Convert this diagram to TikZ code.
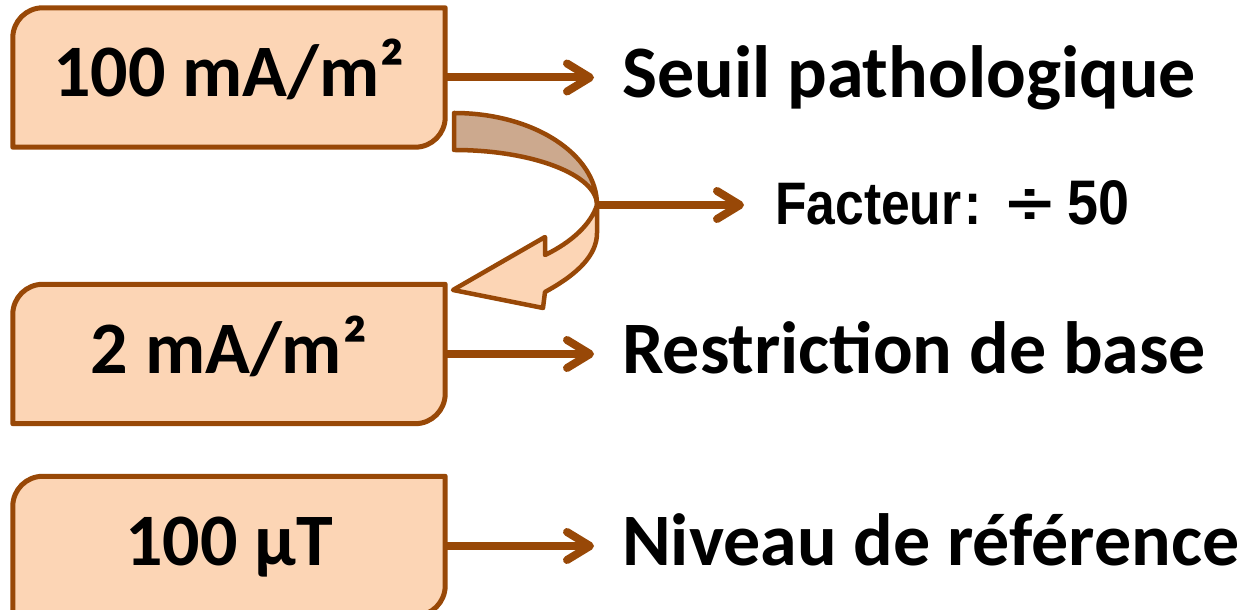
\documentclass[tikz,border=0pt]{standalone}
\usepackage{fontspec}
\setmainfont{Carlito}
\newfontfamily\narrowfont[FakeStretch=0.86]{Liberation Sans}
\usetikzlibrary{arrows.meta}
\definecolor{brn}{RGB}{152,72,7}
\definecolor{peach}{RGB}{252,213,181}
\definecolor{backpeach}{RGB}{204,169,142}
\pgfdeclarelayer{bg}
\pgfsetlayers{bg,main}
\tikzset{
  boxline/.style={draw=brn,fill=peach,line width=5pt,line join=round},
  valbox/.style={minimum width=432pt,minimum height=139pt,text height=52pt,text depth=13pt,inner sep=0pt,
     font=\bfseries\fontsize{74}{80}\selectfont},
  lbl/.style={anchor=base west,inner sep=0pt,font=\bfseries\fontsize{74}{80}\selectfont},
  flbl/.style={anchor=base west,inner sep=0pt,font=\narrowfont\bfseries\fontsize{60}{66}\selectfont},
  conn/.style={draw=brn,line width=8pt,-{Straight Barb[length=23pt,width=28pt,round]}},
  ribbon/.style={draw=brn,line width=4.5pt,line join=round},
}
\newcommand\valshape[1]{%
  \draw[boxline] (#1.south west) -- ([yshift=-30pt]#1.north west)
    arc[start angle=180,end angle=90,radius=30pt] -- (#1.north east)
    -- ([yshift=30pt]#1.south east)
    arc[start angle=0,end angle=-90,radius=30pt] -- cycle;}
\begin{document}
\begin{tikzpicture}[x=1pt,y=1pt]
\useasboundingbox (0,0) rectangle (1256,610);
% value boxes
\node[valbox] (b1) at (229,532.5) {100 mA/m²};
\node[valbox] (b2) at (229,256) {2 mA/m²};
\node[valbox] (b3) at (229,64) {100 μT};
\begin{pgfonlayer}{bg}
  \valshape{b1}
  \valshape{b2}
  \valshape{b3}
\end{pgfonlayer}
% labels
\node[lbl] (s1) at (622,512) {Seuil pathologique};
\node[lbl] (s2) at (622,236) {Restriction de base};
\node[lbl] (s3) at (622,44) {Niveau de référence};
\node[flbl] (f) at (775,385) {Facteur\hspace{3pt}:\hspace{26pt}\scalebox{1.6}[1]{÷}\hspace{14pt}\scalebox{1.08}[1.05]{50}};
% curved arrow: back part
\draw[ribbon,fill=backpeach] (454,497) .. controls (533,497) and (597,456) .. (597,405)
   .. controls (597,435) and (533,460) .. (454,460) -- cycle;
% curved arrow: front part
\draw[ribbon,fill=peach] (597,405) .. controls (591,386) and (572,368) .. (545,355)
   -- (545,373) -- (453,320) -- (543,302) -- (545,318)
   .. controls (578,336) and (597,355) .. (597,377) -- cycle;
\coordinate (j) at (597,405);
% connectors
\draw[conn,shorten >=28pt] (b1.east) -- (b1.east -| s1.west);
\draw[conn,shorten >=28pt] (b2.east) -- (b2.east -| s2.west);
\draw[conn,shorten >=28pt] (b3.east) -- (b3.east -| s3.west);
\draw[conn,shorten >=31pt] (j) -- (j -| f.west);
\end{tikzpicture}
\end{document}
